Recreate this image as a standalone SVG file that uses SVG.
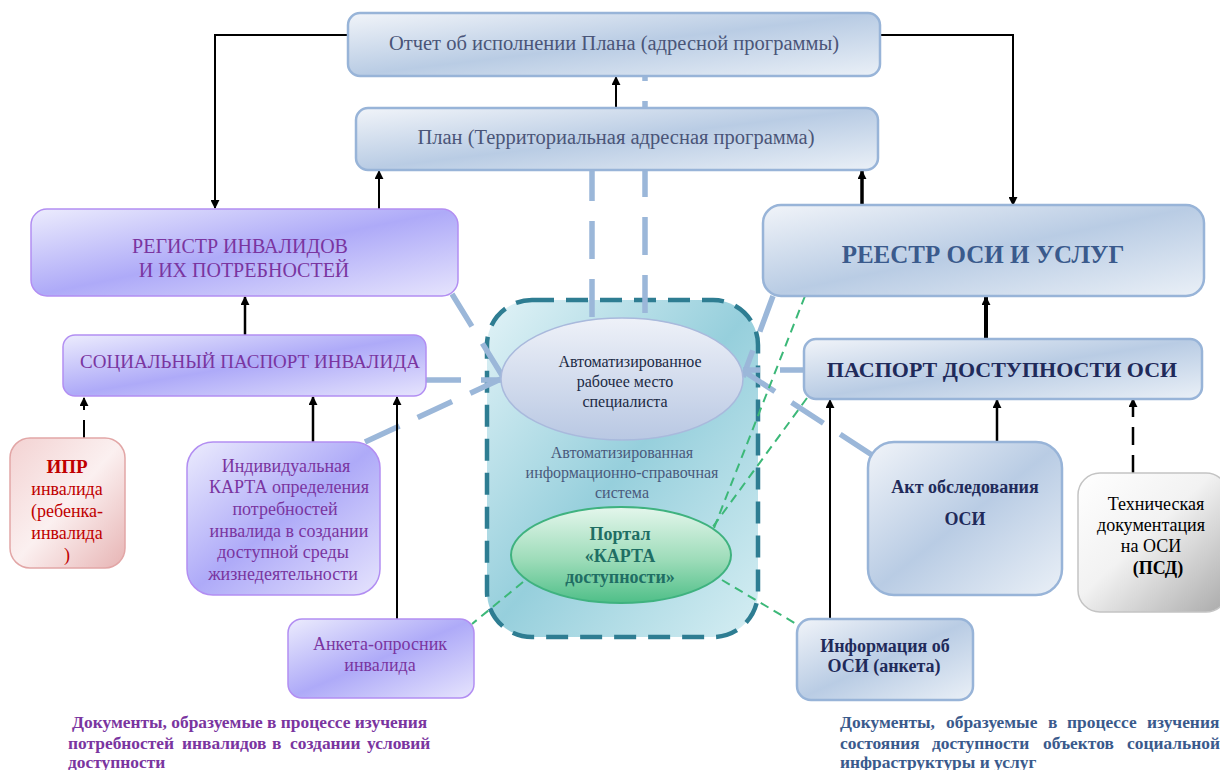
<svg xmlns="http://www.w3.org/2000/svg" width="1220" height="770" viewBox="0 0 1220 770">
<defs>
<linearGradient id="gBlue" x1="0" y1="0" x2="1" y2="1">
<stop offset="0" stop-color="#f1f4f9"/><stop offset="0.5" stop-color="#b9cce4"/><stop offset="1" stop-color="#eaf0f7"/>
</linearGradient>
<linearGradient id="gPur" x1="0" y1="0" x2="1" y2="1">
<stop offset="0" stop-color="#ececfd"/><stop offset="0.5" stop-color="#aeaaf8"/><stop offset="1" stop-color="#e6e4fd"/>
</linearGradient>
<linearGradient id="gPink" x1="0" y1="0" x2="1" y2="1">
<stop offset="0" stop-color="#f3d2d2"/><stop offset="0.5" stop-color="#fbf0f0"/><stop offset="1" stop-color="#e7b4b4"/>
</linearGradient>
<linearGradient id="gGray" x1="0" y1="0" x2="1" y2="1">
<stop offset="0" stop-color="#ffffff"/><stop offset="0.45" stop-color="#f2f2f2"/><stop offset="1" stop-color="#a9a9a9"/>
</linearGradient>
<linearGradient id="gTeal" x1="0" y1="0" x2="1" y2="1">
<stop offset="0" stop-color="#e2f3f7"/><stop offset="0.5" stop-color="#96cfdc"/><stop offset="1" stop-color="#d6eef3"/>
</linearGradient>
<linearGradient id="gAws" x1="0" y1="0" x2="0" y2="1">
<stop offset="0" stop-color="#eef1f8"/><stop offset="1" stop-color="#b9c8e3"/>
</linearGradient>
<linearGradient id="gGreen" x1="0" y1="0" x2="0" y2="1">
<stop offset="0" stop-color="#e4f6ec"/><stop offset="0.55" stop-color="#9ddcb9"/><stop offset="1" stop-color="#4fbf88"/>
</linearGradient>
<marker id="arr" viewBox="0 0 10 10" refX="9" refY="5" markerWidth="9" markerHeight="9" markerUnits="userSpaceOnUse" orient="auto">
<path d="M0,0 L10,5 L0,10 z" fill="#000"/>
</marker>
<style>
text{font-family:"Liberation Serif","Times New Roman",serif;text-anchor:middle}
.bbox{fill:url(#gBlue);stroke:#98b4d8;stroke-width:2.5}
.pbox{fill:url(#gPur);stroke:#b28ef2;stroke-width:1.5}
.ar{fill:none;stroke:#000;stroke-width:2;marker-end:url(#arr)}
.lb{fill:none;stroke:#9bb7d9;stroke-width:5.5;stroke-dasharray:38 20}
.gr{fill:none;stroke:#3cb878;stroke-width:2;stroke-dasharray:9 6}
.tb{fill:#4a5578;font-size:20.5px}
.tp{fill:#7a35a0}
.tn{fill:#1f2a5a;font-weight:bold}
.cap{font-size:17.4px;font-weight:bold;text-anchor:start}
</style>
</defs>
<rect width="1220" height="770" fill="#fff"/>

<g id="ais">
<rect x="487" y="300" width="271" height="337" rx="45" fill="url(#gTeal)" stroke="#2e7d92" stroke-width="4.5" stroke-dasharray="22 12"/>
<text x="622" y="458" font-size="16" fill="#4a5a7c">Автоматизированная</text>
<text x="622" y="478" font-size="16" fill="#4a5a7c">информационно-справочная</text>
<text x="622" y="498" font-size="16" fill="#4a5a7c">система</text>
</g>

<g id="connectors">
<line class="lb" x1="645" y1="43" x2="645" y2="320"/>
<line class="lb" x1="592" y1="163" x2="592" y2="320"/>
<line class="lb" x1="452" y1="294" x2="503" y2="377"/>
<line class="lb" x1="423" y1="380" x2="503" y2="380"/>
<line class="lb" x1="365" y1="442" x2="503" y2="378"/>
<line class="lb" x1="773" y1="296" x2="743" y2="377"/>
<line class="lb" x1="818" y1="370" x2="743" y2="370"/>
<line class="lb" x1="872" y1="455" x2="745" y2="372"/>
<line class="gr" x1="805" y1="296" x2="714" y2="528"/>
<line class="gr" x1="807" y1="398" x2="712" y2="528"/>
<line class="gr" x1="523" y1="582" x2="472" y2="624"/>
<line class="gr" x1="722" y1="580" x2="798" y2="625"/>
<polyline class="ar" points="348,35 215,35 215,208"/>
<polyline class="ar" points="880,35 1013,35 1013,205"/>
<line class="ar" x1="616" y1="107" x2="616" y2="77"/>
<line class="ar" x1="379" y1="209" x2="379" y2="171"/>
<line class="ar" x1="862" y1="205" x2="862" y2="171" style="stroke-width:3.5"/>
<line class="ar" x1="245" y1="335" x2="245" y2="297" style="stroke-width:2.5"/>
<line class="ar" x1="84" y1="438" x2="84" y2="398" style="stroke-dasharray:18 10"/>
<line class="ar" x1="313" y1="442" x2="313" y2="397" style="stroke-width:2.5"/>
<line class="ar" x1="397" y1="619" x2="397" y2="397"/>
<line class="ar" x1="986" y1="338" x2="986" y2="297" style="stroke-width:4"/>
<line class="ar" x1="830" y1="619" x2="830" y2="400"/>
<line class="ar" x1="997" y1="441" x2="997" y2="400" style="stroke-width:2.5"/>
<line class="ar" x1="1133" y1="473" x2="1133" y2="399" style="stroke-width:2.5;stroke-dasharray:18 10"/>
</g>

<g id="report">
<rect class="bbox" x="348" y="13" width="532" height="63" rx="12"/>
<text class="tb" x="614" y="50">Отчет об исполнении Плана (адресной программы)</text>
</g>
<g id="plan">
<rect class="bbox" x="356" y="108" width="522" height="62" rx="12"/>
<text class="tb" x="616" y="144">План (Территориальная адресная программа)</text>
</g>

<g id="register">
<rect class="pbox" x="31" y="209" width="427" height="87" rx="16"/>
<text class="tp" x="240" y="253" font-size="20">РЕГИСТР ИНВАЛИДОВ</text>
<text class="tp" x="244" y="277" font-size="20">И ИХ ПОТРЕБНОСТЕЙ</text>
</g>
<g id="socpass">
<rect class="pbox" x="63" y="335" width="363" height="61" rx="12"/>
<text class="tp" x="250" y="368" font-size="19">СОЦИАЛЬНЫЙ ПАСПОРТ ИНВАЛИДА</text>
</g>
<g id="ipr">
<rect x="10" y="438" width="115" height="130" rx="20" fill="url(#gPink)" stroke="#e2a6a6" stroke-width="1.5"/>
<text x="67" y="473" font-size="19" font-weight="bold" fill="#c00000">ИПР</text>
<text x="67" y="495" font-size="18" fill="#c00000">инвалида</text>
<text x="67" y="517" font-size="18" fill="#c00000">(ребенка-</text>
<text x="67" y="539" font-size="18" fill="#c00000">инвалида</text>
<text x="67" y="561" font-size="18" fill="#c00000">)</text>
</g>
<g id="ikarta">
<rect class="pbox" x="187" y="442" width="193" height="153" rx="26"/>
<text class="tp" x="286" y="472" font-size="18">Индивидуальная</text>
<text class="tp" x="289" y="493" font-size="18">КАРТА определения</text>
<text class="tp" x="285" y="515" font-size="18">потребностей</text>
<text class="tp" x="289" y="537" font-size="18">инвалида в создании</text>
<text class="tp" x="283" y="558" font-size="18">доступной среды</text>
<text class="tp" x="283" y="580" font-size="18">жизнедеятельности</text>
</g>
<g id="anketa">
<rect class="pbox" x="288" y="619" width="186" height="79" rx="14"/>
<text class="tp" x="380" y="650" font-size="18">Анкета-опросник</text>
<text class="tp" x="380" y="671" font-size="18">инвалида</text>
</g>

<g id="aws">
<ellipse cx="622" cy="379" rx="121" ry="61" fill="url(#gAws)" stroke="#a9b9dc" stroke-width="1.5"/>
<text x="630" y="367" font-size="16" fill="#202a44">Автоматизированное</text>
<text x="625" y="387" font-size="16" fill="#202a44">рабочее место</text>
<text x="625" y="407" font-size="16" fill="#202a44">специалиста</text>
</g>
<g id="portal">
<ellipse cx="621" cy="555" rx="110" ry="48" fill="url(#gGreen)" stroke="#3fb27f" stroke-width="2"/>
<text x="620" y="540" font-size="18" font-weight="bold" fill="#1f6e64">Портал</text>
<text x="620" y="562" font-size="18" font-weight="bold" fill="#1f6e64">«КАРТА</text>
<text x="620" y="583" font-size="18" font-weight="bold" fill="#1f6e64">доступности»</text>
</g>

<g id="reestr">
<rect class="bbox" x="763" y="205" width="441" height="91" rx="18"/>
<text x="983" y="263" font-size="25" font-weight="bold" fill="#3a5a8c">РЕЕСТР ОСИ И УСЛУГ</text>
</g>
<g id="pasport">
<rect class="bbox" x="804" y="339" width="398" height="60" rx="12"/>
<text class="tn" x="1002" y="377" font-size="22">ПАСПОРТ ДОСТУПНОСТИ ОСИ</text>
</g>
<g id="akt">
<rect class="bbox" x="868" y="442" width="194" height="153" rx="26"/>
<text class="tn" x="965" y="493" font-size="18">Акт обследования</text>
<text class="tn" x="965" y="525" font-size="18">ОСИ</text>
</g>
<g id="tech">
<rect x="1078" y="473" width="150" height="139" rx="22" fill="url(#gGray)" stroke="#c4c4c4" stroke-width="1.5"/>
<text x="1156" y="510" font-size="18" fill="#000">Техническая</text>
<text x="1151" y="531" font-size="18" fill="#000">документация</text>
<text x="1151" y="552" font-size="18" fill="#000">на ОСИ</text>
<text x="1158" y="574" font-size="18" font-weight="bold" fill="#000">(ПСД)</text>
</g>
<g id="info">
<rect class="bbox" x="797" y="619" width="176" height="81" rx="14"/>
<text class="tn" x="885" y="652" font-size="18">Информация об</text>
<text class="tn" x="884" y="672" font-size="18">ОСИ (анкета)</text>
</g>

<g id="caption-left" fill="#7a35a0">
<text class="cap" x="72" y="728">Документы, образуемые в процессе изучения</text>
<text class="cap" y="749"><tspan x="68">потребностей</tspan><tspan x="182">инвалидов</tspan><tspan x="272">в</tspan><tspan x="290">создании</tspan><tspan x="367">условий</tspan></text>
<text class="cap" x="68" y="768">доступности</text>
</g>
<g id="caption-right" fill="#3a5a8c">
<text class="cap" y="728"><tspan x="840">Документы,</tspan><tspan x="946">образуемые</tspan><tspan x="1048">в</tspan><tspan x="1067">процессе</tspan><tspan x="1147">изучения</tspan></text>
<text class="cap" y="749"><tspan x="840">состояния</tspan><tspan x="932">доступности</tspan><tspan x="1043">объектов</tspan><tspan x="1127">социальной</tspan></text>
<text class="cap" x="840" y="768">инфраструктуры и услуг</text>
</g>
</svg>
